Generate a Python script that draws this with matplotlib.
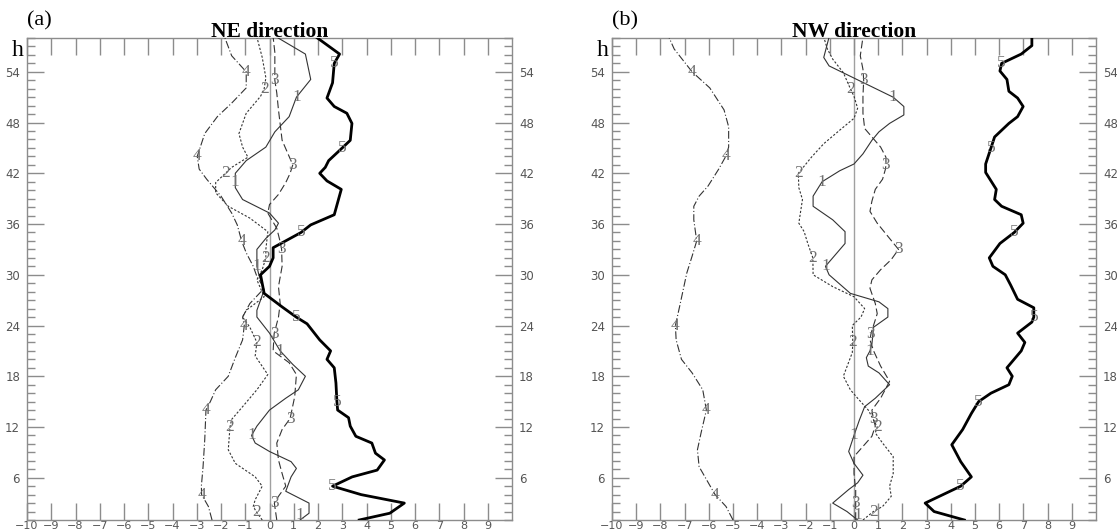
import numpy as np
import matplotlib
matplotlib.use('Agg')
import matplotlib.pyplot as plt
from matplotlib.ticker import MultipleLocator

# ---- panel (a): NE direction, curves given as height h vs value x ----
ne_h1 = [1, 1.8, 3, 4.4, 6.1, 7.1, 7.9, 9.1, 10.1, 11, 12.1, 14, 15.4, 16.4, 18, 19.4, 21, 23.1, 25, 25.8,
         28.2, 30, 31, 33, 34.3, 35.3, 36.1, 37.3, 38.9, 40.3, 41, 42, 43.5, 45.1, 46.9, 48.7, 51, 53.1, 56.1, 58.1]
ne_x1 = [1.26, 1.63, 1.63, 0.67, 0.89, 1.11, 0.89, 0, -0.59, -0.74, -0.52, 0, 0.67, 1.19, 1.48, 0.96, 0.44, 0, -0.52, -0.52,
         -0.22, -0.44, -0.52, -0.52, -0.15, 0.22, 0.37, 0, -1.11, -1.41, -1.41, -1.41, -0.96, -0.15, 0.22, 0.81, 1.11, 1.7, 1.48, 0.3]

ne_h2 = [1, 2, 2.6, 3.4, 5, 6.1, 7.7, 9.3, 12, 12.9, 14.4, 16.4, 18.2, 20.4, 22, 23.8, 25, 25.8, 27.4, 29.4,
         30.6, 32, 33, 35.1, 36.7, 38.1, 39.7, 40.9, 42, 42.7, 43.9, 45.1, 46.7, 49.1, 51.1, 52, 53.3, 55.7, 58.1]
ne_x2 = [-0.3, -0.55, -0.67, -0.59, -0.3, -0.59, -1.41, -1.7, -1.63, -1.56, -1.11, -0.52, -0.07, -0.59, -0.52, -0.81, -1.11, -0.96, -0.22, -0.52,
         -0.3, -0.15, -0.15, -0.07, -0.81, -1.7, -2.22, -2.22, -1.82, -1.56, -0.89, -1.11, -1.26, -0.96, -0.37, -0.22, -0.15, -0.3, -0.52]

ne_h3 = [1, 3, 3.8, 5, 6.5, 8.1, 10.1, 11.7, 13, 15.6, 18.2, 19.6, 21, 23, 25, 26.6, 28.6, 31, 33, 33.9,
         35.5, 37.3, 38.3, 39.5, 40.9, 42, 43, 45.9, 49.5, 51.5, 53, 54.7, 56.3, 58.1]
ne_x3 = [0.3, 0.2, 0.37, 0.67, 0.52, 0.37, 0.3, 0.52, 0.85, 1.04, 1.11, 0.81, 0.15, 0.19, 0.37, 0.44, 0.37, 0.52, 0.5, 0.44,
         0.3, -0.07, 0, 0.37, 0.67, 0.85, 0.96, 0.52, 0.37, 0.3, 0.22, 0.22, 0.22, 0.15]

ne_h4 = [1, 2.6, 4, 5, 7.3, 10.5, 14, 15, 16.4, 18, 20.2, 22.3, 24, 25, 26.6, 28.4, 29.8, 31, 32.6, 34,
         35.9, 37.3, 39.3, 41.3, 42.5, 44, 46.7, 48.7, 50.3, 52.1, 54, 55.9, 58.1]
ne_x4 = [-2.37, -2.52, -2.8, -2.81, -2.74, -2.67, -2.62, -2.44, -2.22, -1.7, -1.41, -1.11, -1.04, -1.11, -0.81, -0.22, -0.52, -0.67, -0.96, -1.15,
         -1.33, -1.56, -2.0, -2.59, -2.9, -2.98, -2.67, -2.15, -1.56, -0.96, -0.96, -1.56, -1.85]

ne_h5 = [1, 1.8, 3, 4, 5, 6.1, 6.9, 8.1, 8.9, 10.1, 10.9, 12.1, 13.1, 14, 15, 17.2, 19, 20, 21, 22.3,
         24.2, 25, 26.2, 27.8, 30, 31, 32, 33.2, 35, 35.9, 37.1, 40.1, 41.1, 42, 42.7, 43.5, 45, 45.9, 47.9, 49.1,
         49.9, 50.9, 52.7, 55, 56.1, 58.1]
ne_x5 = [3.7, 4.96, 5.56, 3.78, 2.6, 3.41, 4.44, 4.74, 4.37, 4.22, 3.56, 3.33, 3.26, 2.81, 2.78, 2.74, 2.67, 2.37, 2.52, 2.07,
         1.55, 1.1, 0.52, -0.22, -0.37, 0, 0.15, 0.15, 1.3, 1.7, 2.67, 2.96, 2.37, 2.07, 2.3, 2.44, 3.0, 3.33, 3.4, 3.19,
         2.67, 2.37, 2.6, 2.67, 2.89, 1.93]

# ---- panel (b): NW direction ----
nw_h1 = [1, 2, 3, 4.6, 5.4, 6.3, 7.7, 9.1, 11, 12.8, 14.4, 15.4, 17, 18.4, 19.2, 20.2, 21, 21.8, 23.8, 25,
         26, 26.8, 27.8, 30, 31, 32, 33.7, 35.1, 36.5, 38.1, 39.3, 41, 42.3, 43.1, 44.3, 45.9, 46.9, 47.9, 48.9, 49.9,
         51, 54.7, 55.7, 58.1]
nw_x1 = [0.15, -0.29, -0.88, -0.22, 0.15, 0.37, 0, -0.22, 0, 0.22, 0.44, 0.88, 1.47, 1.03, 0.59, 0.51, 0.66, 0.74, 0.81, 1.4,
         1.4, 1.03, -0.15, -1.03, -1.18, -0.88, -0.37, -0.37, -0.88, -1.69, -1.69, -1.32, -0.59, 0, 0.37, 0.74, 1.03, 1.47, 2.06, 2.06,
         1.62, -1.03, -1.25, -1.03]

nw_h2 = [1, 2, 2.6, 3.8, 5, 6.5, 8.5, 10.1, 11.3, 12, 14, 15.4, 16.4, 18, 20.8, 22, 24, 25, 26, 27.4,
         28.6, 30, 32, 33.7, 35.1, 36.1, 38.9, 40.3, 42, 43.9, 45.5, 47.1, 48.5, 49.7, 51.1, 52, 53.9, 55.5, 56.7, 58.1]
nw_x2 = [0.37, 0.8, 1.18, 1.54, 1.47, 1.62, 1.62, 1.18, 0.88, 0.96, 0.59, 0.15, -0.15, -0.44, -0.07, -0.05, -0.07, 0.29, 0.44, 0,
         -0.88, -1.69, -1.7, -1.91, -2.06, -2.28, -2.13, -2.28, -2.3, -1.76, -1.25, -0.59, 0, 0.15, 0, -0.15, -0.44, -0.88, -1.1, -1.25]

nw_h3 = [1, 3, 4.5, 6.5, 8.5, 9.7, 10.9, 12.1, 13, 14, 15.4, 17.4, 19.2, 21, 22.3, 23, 23.4, 25.4, 26.6, 28.4,
         29.4, 30.6, 31.8, 33, 34.3, 36.1, 37.5, 38.7, 40.1, 41.3, 42.5, 43, 43.9, 45.1, 46.3, 47.3, 49.1, 51.1, 53, 54.3,
         55.9, 58.1]
nw_x3 = [0.07, 0.07, 0.07, 0, 0, 0.37, 0.74, 0.88, 0.8, 0.74, 1.1, 1.47, 1.1, 0.81, 0.66, 0.7, 0.74, 0.96, 0.88, 0.66,
         0.74, 1.1, 1.54, 1.84, 1.47, 0.96, 0.66, 0.74, 0.88, 1.18, 1.3, 1.32, 1.32, 1.1, 0.74, 0.44, 0.37, 0.37, 0.4, 0.37,
         0.26, 0.37]

nw_h4 = [1, 2.6, 4, 5.8, 7.3, 9.3, 11.3, 14, 16.4, 18.4, 20, 22.3, 24, 26.2, 28.2, 30.2, 32.2, 34, 36.5, 38.1,
         39.3, 40.5, 42.5, 44, 45.1, 47.5, 49.5, 52.1, 54, 56.7, 58.1]
nw_x4 = [-5.0, -5.29, -5.74, -6.1, -6.4, -6.47, -6.32, -6.1, -6.25, -6.69, -7.13, -7.35, -7.38, -7.21, -7.06, -6.91, -6.69, -6.5, -6.62, -6.62,
         -6.4, -6.03, -5.59, -5.3, -5.18, -5.18, -5.37, -5.96, -6.69, -7.43, -7.65]

nw_h5 = [1, 2, 3, 5, 6.1, 7.9, 9.9, 11.7, 13.6, 15, 16, 17, 18, 19, 21, 22, 23.1, 24.4, 25, 26.1,
         27.1, 28.8, 30, 31, 32, 33.7, 35, 36.1, 37.1, 38.1, 38.9, 40.1, 42.1, 43.1, 45, 46.3, 47.9, 48.7, 49.9, 50.9,
         51.7, 53.1, 54.1, 55, 56.1, 57.1, 58.1]
nw_x5 = [4.56, 3.31, 2.94, 4.41, 4.85, 4.41, 4.04, 4.49, 4.85, 5.15, 5.66, 6.4, 6.54, 6.32, 6.91, 7.06, 6.76, 7.35, 7.43, 7.43,
         6.76, 6.47, 6.25, 5.74, 5.59, 6.03, 6.62, 6.99, 6.91, 6.1, 5.81, 5.88, 5.44, 5.44, 5.66, 5.81, 6.4, 6.76, 6.99, 6.76,
         6.4, 6.32, 6.03, 6.1, 6.91, 7.35, 7.35]

X_TICKS = list(range(-10, 10))
Y_TICKS = list(range(6, 55, 6))

STYLES = {
    1: dict(color='#333333', lw=0.8, ls='-'),
    2: dict(color='#333333', lw=0.8, ls=(0, (2, 1.6))),
    3: dict(color='#333333', lw=0.8, ls=(0, (7, 3))),
    4: dict(color='#333333', lw=0.8, ls=(0, (7, 2, 1, 2))),
    5: dict(color='#000000', lw=2.0, ls='-'),
}

AXIS_GRAY = '#8c8c8c'
SERIF = 'Liberation Serif'


def draw_panel(ax, curves, title, tag):
    ax.set_xlim(-10, 10)
    ax.set_ylim(1, 58)
    ax.axvline(0, color='#a0a0a0', lw=1.0, zorder=1)

    for k, (h, x) in curves.items():
        ax.plot(x, h, zorder=3, **STYLES[k])
        # number the curve every 10 h, starting at h = k
        for hl in range(k, 59, 10):
            ax.text(np.interp(hl, h, x), max(hl, 1.6), str(k), family=SERIF, fontsize=12.5,
                    color='#707070', ha='center', va='center', zorder=4, clip_on=True)

    ax.set_xticks(X_TICKS)
    ax.set_yticks(Y_TICKS)
    ax.yaxis.set_minor_locator(MultipleLocator(1))
    ax.tick_params(axis='x', which='major', direction='in', top=True, bottom=True,
                   length=12.5, width=1, color=AXIS_GRAY, labelsize=8, labelcolor='#555555', pad=0.5)
    ax.tick_params(axis='y', which='major', direction='in', left=True, right=True,
                   labelleft=True, labelright=True,
                   length=12, width=1, color=AXIS_GRAY, labelsize=8.5, labelcolor='#555555', pad=5)
    ax.tick_params(axis='y', which='minor', direction='in', left=True, right=True,
                   length=6, width=1, color=AXIS_GRAY)
    for sp in ax.spines.values():
        sp.set_color(AXIS_GRAY)
        sp.set_linewidth(1)

    ax.set_title(title, family=SERIF, fontweight='bold', fontsize=15.5, pad=1)
    ax.text(0.0, 1.0 + 8 / 482, tag, transform=ax.transAxes, family=SERIF, fontsize=16,
            ha='left', va='bottom')
    ax.text(-0.008, 0.975, 'h', transform=ax.transAxes, family=SERIF, fontsize=17,
            ha='right', va='center')


fig = plt.figure(figsize=(11.17, 5.32), dpi=100)
ax_a = fig.add_axes([27 / 1117, 12 / 532, 485 / 1117, 482 / 532])
ax_b = fig.add_axes([612 / 1117, 12 / 532, 484 / 1117, 482 / 532])

draw_panel(ax_a, {1: (ne_h1, ne_x1), 2: (ne_h2, ne_x2), 3: (ne_h3, ne_x3),
                  4: (ne_h4, ne_x4), 5: (ne_h5, ne_x5)}, 'NE direction', '(a)')
draw_panel(ax_b, {1: (nw_h1, nw_x1), 2: (nw_h2, nw_x2), 3: (nw_h3, nw_x3),
                  4: (nw_h4, nw_x4), 5: (nw_h5, nw_x5)}, 'NW direction', '(b)')

fig.savefig('out.png', dpi=100)
